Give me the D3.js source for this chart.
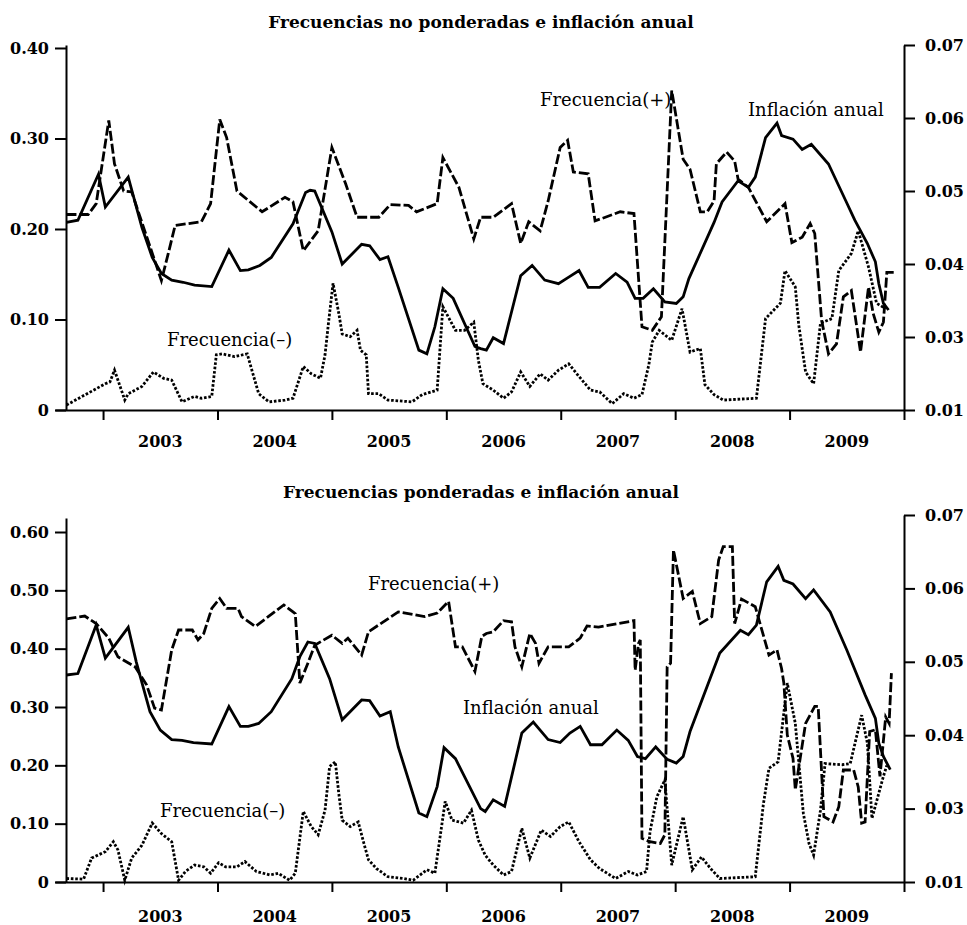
<!DOCTYPE html>
<html>
<head>
<meta charset="utf-8">
<script src="https://d3js.org/d3.v7.min.js"></script>
<style>
  body { margin: 0; background: #fff; }
  svg text { font-family: "DejaVu Serif", serif; fill: #000; }
  .axis path, .axis line { stroke: #000; stroke-width: 2; }
  .axis text { font-family: "DejaVu Serif", serif; font-size: 16px; font-weight: bold; }
  .title { font-size: 17px; font-weight: bold; }
  .note { font-size: 18px; }
  .year { font-size: 16px; font-weight: bold; }
</style>
</head>
<body>
<svg id="chart" width="967" height="925"></svg>
<script>
var titles = ["Frecuencias no ponderadas e inflación anual", "Frecuencias ponderadas e inflación anual"];
var seriesNames = ["Frecuencia(+)", "Frecuencia(–)", "Inflación anual"];
var yearLabels = [2003, 2004, 2005, 2006, 2007, 2008, 2009];
var yearBounds = [2003, 2004, 2005, 2006, 2007, 2008, 2009, 2010];
var leftTicksTop = [0, 0.1, 0.2, 0.3, 0.4];
var leftLabelsTop = ["0", "0.10", "0.20", "0.30", "0.40"];
var leftTicksBottom = [0, 0.1, 0.2, 0.3, 0.4, 0.5, 0.6];
var leftLabelsBottom = ["0", "0.10", "0.20", "0.30", "0.40", "0.50", "0.60"];
var rightTicks = [0.02, 0.03, 0.04, 0.05, 0.06, 0.07];
var rightLabels = ["0.01", "0.03", "0.04", "0.05", "0.06", "0.07"];

// [year, value]
var topPos = [[2002.68,0.216],[2002.87,0.216],[2002.94,0.228],[2003.05,0.320],[2003.10,0.272],[2003.18,0.242],[2003.25,0.241],
  [2003.51,0.143],[2003.57,0.173],[2003.63,0.204],[2003.86,0.208],[2003.94,0.228],[2004.02,0.321],[2004.08,0.301],[2004.17,0.242],
  [2004.39,0.219],[2004.59,0.235],[2004.66,0.230],[2004.75,0.176],[2004.88,0.198],[2005.00,0.290],[2005.12,0.250],[2005.22,0.213],
  [2005.41,0.213],[2005.51,0.227],[2005.67,0.226],[2005.74,0.219],[2005.92,0.228],[2005.97,0.279],[2006.11,0.246],[2006.24,0.189],
  [2006.30,0.213],[2006.41,0.213],[2006.57,0.228],[2006.65,0.184],[2006.72,0.208],[2006.82,0.198],[2006.89,0.231],[2006.995,0.290],
  [2007.06,0.298],[2007.11,0.263],[2007.24,0.261],[2007.30,0.209],[2007.39,0.213],[2007.52,0.219],[2007.64,0.217],[2007.71,0.092],
  [2007.80,0.088],[2007.88,0.103],[2007.97,0.353],[2008.07,0.277],[2008.13,0.266],[2008.22,0.219],[2008.28,0.219],[2008.34,0.231],
  [2008.36,0.272],[2008.45,0.285],[2008.52,0.275],[2008.55,0.255],[2008.64,0.246],[2008.80,0.208],[2008.96,0.228],[2009.02,0.185],
  [2009.11,0.191],[2009.18,0.206],[2009.22,0.195],[2009.28,0.099],[2009.34,0.062],[2009.41,0.073],[2009.47,0.125],[2009.54,0.132],
  [2009.62,0.064],[2009.69,0.136],[2009.73,0.107],[2009.78,0.086],[2009.82,0.097],[2009.85,0.152],[2009.91,0.152]];

var topNeg = [[2002.68,0.0055],[2003.02,0.029],[2003.06,0.031],[2003.10,0.044],[2003.19,0.011],[2003.22,0.018],[2003.34,0.026],
  [2003.44,0.042],[2003.53,0.035],[2003.60,0.033],[2003.69,0.009],[2003.80,0.015],[2003.86,0.013],[2003.95,0.015],[2003.99,0.061],
  [2004.04,0.062],[2004.15,0.059],[2004.26,0.062],[2004.36,0.018],[2004.45,0.009],[2004.59,0.011],[2004.66,0.013],[2004.75,0.048],
  [2004.82,0.040],[2004.90,0.035],[2004.94,0.061],[2004.97,0.096],[2005.01,0.140],[2005.06,0.107],[2005.09,0.084],[2005.16,0.081],
  [2005.22,0.088],[2005.25,0.066],[2005.30,0.061],[2005.32,0.018],[2005.41,0.018],[2005.49,0.011],[2005.70,0.009],[2005.79,0.017],
  [2005.92,0.022],[2005.97,0.114],[2006.08,0.088],[2006.16,0.088],[2006.24,0.097],[2006.28,0.055],[2006.32,0.029],[2006.41,0.022],
  [2006.50,0.013],[2006.57,0.020],[2006.65,0.042],[2006.73,0.026],[2006.82,0.040],[2006.89,0.033],[2006.98,0.044],[2007.07,0.051],
  [2007.16,0.037],[2007.26,0.022],[2007.34,0.020],[2007.45,0.007],[2007.55,0.018],[2007.64,0.013],[2007.71,0.017],[2007.77,0.050],
  [2007.80,0.075],[2007.86,0.088],[2007.97,0.077],[2008.06,0.112],[2008.13,0.064],[2008.22,0.068],[2008.26,0.028],[2008.34,0.017],
  [2008.42,0.011],[2008.71,0.013],[2008.79,0.101],[2008.92,0.118],[2008.96,0.154],[2009.05,0.136],[2009.08,0.094],[2009.14,0.042],
  [2009.21,0.029],[2009.27,0.096],[2009.37,0.101],[2009.43,0.154],[2009.54,0.173],[2009.60,0.198],[2009.69,0.158],[2009.76,0.118],
  [2009.84,0.112]];

var topInf = [[2002.68,0.0457],[2002.78,0.0460],[2002.96,0.0523],[2003.02,0.0478],[2003.22,0.0519],[2003.34,0.0450],[2003.43,0.0409],
  [2003.51,0.0387],[2003.60,0.0378],[2003.70,0.0375],[2003.80,0.0371],[2003.95,0.0369],[2004.10,0.0419],[2004.20,0.0391],
  [2004.27,0.0392],[2004.37,0.0398],[2004.47,0.0409],[2004.66,0.0455],[2004.77,0.0498],[2004.81,0.0501],[2004.85,0.0500],
  [2005.00,0.0444],[2005.09,0.0400],[2005.26,0.0427],[2005.33,0.0425],[2005.42,0.0406],[2005.49,0.0410],[2005.58,0.0368],
  [2005.76,0.0282],[2005.83,0.0277],[2005.90,0.0314],[2005.97,0.0366],[2006.06,0.0353],[2006.25,0.0287],[2006.30,0.0284],
  [2006.35,0.0282],[2006.41,0.0299],[2006.50,0.0291],[2006.65,0.0384],[2006.75,0.0398],[2006.86,0.0378],[2006.98,0.0373],
  [2007.07,0.0382],[2007.16,0.0391],[2007.24,0.0368],[2007.34,0.0368],[2007.48,0.0387],[2007.58,0.0375],[2007.65,0.0353],
  [2007.72,0.0353],[2007.81,0.0366],[2007.91,0.0348],[2008.01,0.0346],[2008.07,0.0355],[2008.12,0.0380],[2008.34,0.0457],
  [2008.41,0.0485],[2008.55,0.0514],[2008.64,0.0505],[2008.70,0.0519],[2008.79,0.0573],[2008.89,0.0593],[2008.93,0.0576],
  [2009.03,0.0571],[2009.11,0.0557],[2009.19,0.0564],[2009.34,0.0537],[2009.49,0.0487],[2009.57,0.0460],[2009.68,0.0428],
  [2009.75,0.0403],[2009.78,0.0373],[2009.82,0.0346],[2009.865,0.0337]];

var botPos = [[2002.68,0.451],[2002.84,0.456],[2002.94,0.443],[2003.05,0.418],[2003.13,0.386],[2003.28,0.369],[2003.38,0.338],
  [2003.45,0.298],[2003.51,0.295],[2003.60,0.398],[2003.66,0.432],[2003.78,0.432],[2003.83,0.415],[2003.88,0.426],[2003.95,0.469],
  [2004.02,0.486],[2004.08,0.469],[2004.18,0.469],[2004.21,0.455],[2004.33,0.438],[2004.58,0.475],[2004.66,0.463],[2004.68,0.460],
  [2004.72,0.341],[2004.79,0.375],[2004.85,0.406],[2005.00,0.423],[2005.09,0.409],[2005.14,0.418],[2005.26,0.389],[2005.32,0.429],
  [2005.58,0.463],[2005.81,0.455],[2005.92,0.461],[2006.02,0.481],[2006.08,0.403],[2006.14,0.403],[2006.25,0.361],[2006.31,0.421],
  [2006.35,0.426],[2006.41,0.429],[2006.50,0.448],[2006.57,0.446],[2006.60,0.403],[2006.66,0.369],[2006.73,0.426],[2006.78,0.409],
  [2006.81,0.375],[2006.89,0.403],[2007.07,0.403],[2007.17,0.418],[2007.23,0.439],[2007.33,0.437],[2007.64,0.448],[2007.65,0.363],
  [2007.68,0.409],[2007.695,0.415],[2007.71,0.075],[2007.78,0.069],[2007.87,0.066],[2007.91,0.081],[2007.93,0.369],[2007.96,0.375],
  [2007.985,0.569],[2008.07,0.486],[2008.15,0.498],[2008.22,0.443],[2008.32,0.455],[2008.38,0.552],[2008.42,0.575],[2008.50,0.575],
  [2008.52,0.443],[2008.58,0.485],[2008.70,0.472],[2008.82,0.389],[2008.89,0.398],[2008.93,0.366],[2008.95,0.341],[2008.98,0.252],
  [2009.03,0.212],[2009.05,0.158],[2009.14,0.272],[2009.22,0.301],[2009.25,0.301],[2009.30,0.112],[2009.38,0.103],[2009.43,0.129],
  [2009.47,0.192],[2009.56,0.192],[2009.60,0.163],[2009.63,0.101],[2009.66,0.103],[2009.70,0.258],[2009.75,0.261],[2009.79,0.181],
  [2009.84,0.283],[2009.87,0.272],[2009.89,0.358]];

var botNeg = [[2002.68,0.006],[2002.83,0.005],[2002.90,0.041],[2003.02,0.052],[2003.09,0.069],[2003.13,0.055],[2003.19,0.003],
  [2003.25,0.041],[2003.34,0.063],[2003.43,0.101],[2003.51,0.083],[2003.60,0.069],[2003.66,0.003],[2003.72,0.018],[2003.80,0.029],
  [2003.88,0.026],[2003.94,0.015],[2004.01,0.033],[2004.07,0.026],[2004.17,0.026],[2004.24,0.035],[2004.34,0.018],[2004.46,0.012],
  [2004.53,0.015],[2004.63,0.003],[2004.68,0.015],[2004.75,0.121],[2004.82,0.095],[2004.88,0.081],[2004.94,0.123],[2004.98,0.198],
  [2005.03,0.206],[2005.06,0.152],[2005.09,0.106],[2005.16,0.095],[2005.23,0.103],[2005.28,0.066],[2005.32,0.038],[2005.39,0.023],
  [2005.49,0.009],[2005.63,0.006],[2005.71,0.003],[2005.83,0.021],[2005.90,0.015],[2005.99,0.138],[2006.05,0.106],[2006.15,0.101],
  [2006.22,0.123],[2006.28,0.072],[2006.34,0.046],[2006.41,0.029],[2006.50,0.012],[2006.57,0.018],[2006.66,0.092],[2006.73,0.041],
  [2006.83,0.089],[2006.91,0.078],[2006.995,0.095],[2007.07,0.103],[2007.16,0.069],[2007.26,0.038],[2007.34,0.023],[2007.48,0.006],
  [2007.59,0.018],[2007.67,0.012],[2007.75,0.018],[2007.78,0.086],[2007.84,0.146],[2007.91,0.175],[2007.97,0.029],[2008.07,0.112],
  [2008.15,0.021],[2008.23,0.043],[2008.31,0.023],[2008.39,0.006],[2008.70,0.009],[2008.77,0.132],[2008.82,0.195],[2008.90,0.206],
  [2008.98,0.341],[2009.05,0.272],[2009.12,0.118],[2009.17,0.066],[2009.21,0.046],[2009.27,0.123],[2009.31,0.203],[2009.46,0.201],
  [2009.53,0.203],[2009.63,0.286],[2009.68,0.238],[2009.72,0.109],[2009.82,0.181],[2009.85,0.200]];

var botInf = [[2002.68,0.0482],[2002.78,0.0484],[2002.94,0.0550],[2003.02,0.0505],[2003.22,0.0547],[2003.29,0.0500],[2003.35,0.0466],
  [2003.41,0.0432],[2003.50,0.0407],[2003.60,0.0394],[2003.69,0.0393],[2003.79,0.0390],[2003.95,0.0388],[2004.10,0.0439],
  [2004.20,0.0412],[2004.27,0.0412],[2004.36,0.0416],[2004.47,0.0432],[2004.65,0.0477],[2004.72,0.0507],[2004.79,0.0527],
  [2004.85,0.0525],[2004.98,0.0477],[2005.09,0.0421],[2005.26,0.0448],[2005.33,0.0447],[2005.42,0.0426],[2005.51,0.0432],
  [2005.58,0.0384],[2005.76,0.0294],[2005.83,0.0289],[2005.92,0.0330],[2005.98,0.0383],[2006.08,0.0368],[2006.30,0.0300],
  [2006.34,0.0296],[2006.41,0.0312],[2006.51,0.0303],[2006.66,0.0403],[2006.76,0.0418],[2006.89,0.0394],[2006.995,0.0390],
  [2007.08,0.0403],[2007.17,0.0412],[2007.26,0.0387],[2007.36,0.0387],[2007.49,0.0407],[2007.59,0.0393],[2007.67,0.0371],
  [2007.74,0.0368],[2007.83,0.0384],[2007.93,0.0367],[2008.01,0.0362],[2008.07,0.0371],[2008.13,0.0405],[2008.39,0.0512],
  [2008.57,0.0543],[2008.64,0.0537],[2008.71,0.0550],[2008.80,0.0609],[2008.90,0.0630],[2008.95,0.0611],[2009.03,0.0606],
  [2009.14,0.0586],[2009.21,0.0598],[2009.355,0.0568],[2009.50,0.0516],[2009.66,0.0455],[2009.75,0.0423],[2009.78,0.0389],
  [2009.82,0.0371],[2009.88,0.0353]];

var svg = d3.select("#chart");
var x = d3.scaleLinear().domain([2002.58, 2010]).range([55, 904]);
var leftAxisX = 66;

var panels = [
  {title: titles[0], titleY: 28, base: 410, topL: 45, topR: 45, leftMax: 0.4033,
   leftTicks: leftTicksTop, leftLabels: leftLabelsTop, yearY: 447,
   pos: topPos, neg: topNeg, inf: topInf,
   notes: [[0, 540, 106], [2, 748, 116], [1, 167, 346]]},
  {title: titles[1], titleY: 498, base: 882, topL: 518, topR: 515, leftMax: 0.624,
   leftTicks: leftTicksBottom, leftLabels: leftLabelsBottom, yearY: 922,
   pos: botPos, neg: botNeg, inf: botInf,
   notes: [[0, 368, 590], [2, 463, 714], [1, 160, 817]]}
];

panels.forEach(function(p) {
  var yL = d3.scaleLinear().domain([0, p.leftMax]).range([p.base, p.topL]);
  var yR = d3.scaleLinear().domain([0.02, 0.07]).range([p.base, p.topR]);
  var g = svg.append("g");

  g.append("text").attr("class", "title")
    .attr("x", 481).attr("y", p.titleY)
    .attr("text-anchor", "middle")
    .text(p.title);

  g.append("g").attr("class", "axis")
    .attr("transform", "translate(0," + p.base + ")")
    .call(d3.axisBottom(x).tickValues(yearBounds).tickFormat("").tickSize(10).tickSizeOuter(0));

  g.append("g").attr("class", "axis")
    .attr("transform", "translate(" + leftAxisX + ",0)")
    .call(d3.axisLeft(yL).tickValues(p.leftTicks)
      .tickFormat(function(d, i) { return p.leftLabels[i]; })
      .tickSize(11).tickPadding(6).tickSizeOuter(0));

  g.append("g").attr("class", "axis")
    .attr("transform", "translate(" + x(2010) + ",0)")
    .call(d3.axisRight(yR).tickValues(rightTicks)
      .tickFormat(function(d, i) { return rightLabels[i]; })
      .tickSize(11).tickPadding(10).tickSizeOuter(0));

  g.selectAll(".year").data(yearLabels).enter()
    .append("text").attr("class", "year")
    .attr("x", function(d) { return x(d + 0.5); })
    .attr("y", p.yearY)
    .attr("text-anchor", "middle")
    .text(function(d) { return d; });

  var lineL = d3.line().x(function(d) { return x(d[0]); }).y(function(d) { return yL(d[1]); });
  var lineR = d3.line().x(function(d) { return x(d[0]); }).y(function(d) { return yR(d[1]); });

  g.append("path").datum(p.neg)
    .attr("d", lineL).attr("fill", "none").attr("stroke", "#000")
    .attr("stroke-width", 2.8).attr("stroke-dasharray", "2.6,1.8");
  g.append("path").datum(p.inf)
    .attr("d", lineR).attr("fill", "none").attr("stroke", "#000")
    .attr("stroke-width", 2.8);
  g.append("path").datum(p.pos)
    .attr("d", lineL).attr("fill", "none").attr("stroke", "#000")
    .attr("stroke-width", 2.8).attr("stroke-dasharray", "10,3");

  p.notes.forEach(function(n) {
    g.append("text").attr("class", "note")
      .attr("x", n[1]).attr("y", n[2])
      .text(seriesNames[n[0]]);
  });
});
</script>
</body>
</html>
